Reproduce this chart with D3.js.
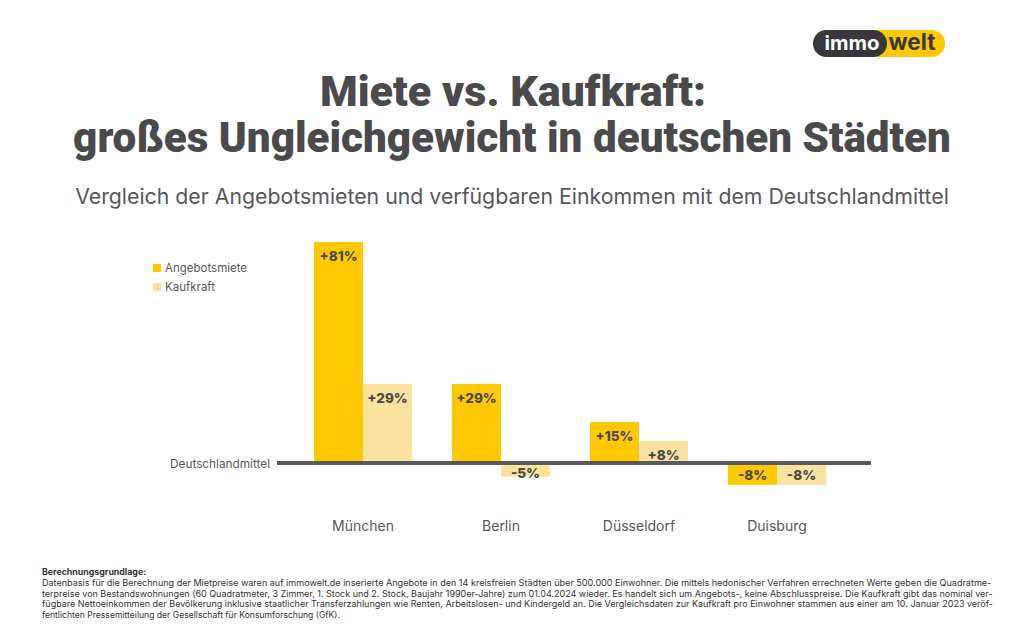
<!DOCTYPE html>
<html><head><meta charset="utf-8">
<script src="https://cdn.jsdelivr.net/npm/d3@7/dist/d3.min.js"></script>
<style>
html,body{margin:0;padding:0;background:#fff;}
svg{display:block;}
</style></head>
<body>
<svg id="chart" width="1024" height="643"></svg>
<script>
// ---- data ----
const cities = ["München", "Berlin", "Düsseldorf", "Duisburg"];
const seriesNames = ["Angebotsmiete", "Kaufkraft"];
const angebotsmiete = [81, 29, 15, -8];
const kaufkraft = [29, -5, 8, -8];
const titleLines = ["Miete vs. Kaufkraft:", "großes Ungleichgewicht in deutschen Städten"];
const subtitle = "Vergleich der Angebotsmieten und verfügbaren Einkommen mit dem Deutschlandmittel";
const baselineLabel = "Deutschlandmittel";
const noteHead = "Berechnungsgrundlage:";
const noteLines = [
 "Datenbasis für die Berechnung der Mietpreise waren auf immowelt.de inserierte Angebote in den 14 kreisfreien Städten über 500.000 Einwohner. Die mittels hedonischer Verfahren errechneten Werte geben die Quadratme-",
 "terpreise von Bestandswohnungen (60 Quadratmeter, 3 Zimmer, 1. Stock und 2. Stock, Baujahr 1990er-Jahre) zum 01.04.2024 wieder. Es handelt sich um Angebots-, keine Abschlusspreise. Die Kaufkraft gibt das nominal ver-",
 "fügbare Nettoeinkommen der Bevölkerung inklusive staatlicher Transferzahlungen wie Renten, Arbeitslosen- und Kindergeld an. Die Vergleichsdaten zur Kaufkraft pro Einwohner stammen aus einer am 10. Januar 2023 veröf-",
 "fentlichten Pressemitteilung der Gesellschaft für Konsumforschung (GfK)."
];

// ---- styles ----
const colors = {"Angebotsmiete": "#ffc800", "Kaufkraft": "#f9e39e"};
const dark = "#4a494b";
const gray = "#57575a";
const svg = d3.select("#chart");

function fitWidth(sel, target) {
  const node = sel.node();
  const fs = parseFloat(sel.attr("font-size"));
  const w = node.getComputedTextLength();
  sel.attr("font-size", (fs * target / w).toFixed(2));
  return sel;
}

// ---- logo ----
const logo = svg.append("g");
logo.append("rect").attr("x", 813).attr("y", 30).attr("width", 132).attr("height", 27).attr("rx", 13.5).attr("fill", "#ffc800");
logo.append("rect").attr("x", 813).attr("y", 30).attr("width", 74).attr("height", 27).attr("rx", 13.5).attr("fill", "#38383c");
logo.append("text").attr("x", 852).attr("y", 50).attr("text-anchor", "middle").attr("font-family", "Inter, sans-serif")
  .attr("font-weight", 700).attr("font-size", 20).attr("fill", "#fff").text("immo").call(s => fitWidth(s, 55));
logo.append("text").attr("x", 912).attr("y", 50).attr("text-anchor", "middle").attr("font-family", "Inter, sans-serif")
  .attr("font-weight", 700).attr("font-size", 20).attr("fill", "#38383c").text("welt").call(s => fitWidth(s, 47));

// ---- titles ----
const titleFont = "Roboto, 'Open Sans', sans-serif";
svg.append("text").attr("x", 513).attr("y", 106).attr("text-anchor", "middle").attr("font-family", titleFont)
  .attr("font-weight", 900).attr("font-size", 40).attr("fill", dark).text(titleLines[0]).call(s => fitWidth(s, 386));
svg.append("text").attr("x", 512).attr("y", 152).attr("text-anchor", "middle").attr("font-family", titleFont)
  .attr("font-weight", 900).attr("font-size", 40).attr("fill", dark).text(titleLines[1]).call(s => fitWidth(s, 878));
svg.append("text").attr("x", 512).attr("y", 204).attr("text-anchor", "middle").attr("font-family", "Inter, sans-serif")
  .attr("font-weight", 400).attr("font-size", 20).attr("fill", gray).text(subtitle).call(s => fitWidth(s, 874));

// ---- scales ----
const x = d3.scaleBand().domain(cities).range([294, 846]).paddingInner(0.29).paddingOuter(0.145);
const xs = d3.scaleBand().domain(seriesNames).range([0, x.bandwidth()]);
const y = d3.scaleLinear().domain([0, 81]).range([463, 242]);

const rows = cities.map((c, i) => ({city: c, values: [
  {series: "Angebotsmiete", value: angebotsmiete[i]},
  {series: "Kaufkraft", value: kaufkraft[i]}
]}));

const groups = svg.append("g").selectAll("g").data(rows).join("g")
  .attr("transform", d => `translate(${x(d.city)},0)`);

groups.selectAll("rect").data(d => d.values).join("rect")
  .attr("x", d => xs(d.series))
  .attr("width", xs.bandwidth())
  .attr("y", d => Math.min(y(d.value), y(0)))
  .attr("height", d => Math.abs(y(d.value) - y(0)))
  .attr("fill", d => colors[d.series]);

const fmt = v => (v > 0 ? "+" : "") + v + "%";
groups.selectAll("text").data(d => d.values).join("text")
  .attr("x", d => xs(d.series) + xs.bandwidth() / 2)
  .attr("y", d => d.value >= 0 ? y(d.value) + 14 : Math.max(y(0) + 10, y(d.value) - 10))
  .attr("dy", "0.35em")
  .attr("text-anchor", "middle")
  .attr("font-family", "Inter, sans-serif").attr("font-weight", 800).attr("font-size", 13.5)
  .attr("fill", dark)
  .text(d => fmt(d.value));

// ---- baseline ----
svg.append("line").attr("x1", 277).attr("x2", 871).attr("y1", y(0)).attr("y2", y(0))
  .attr("stroke", "#5a5a5c").attr("stroke-width", 4);
svg.append("text").attr("x", 270).attr("y", y(0) + 1).attr("dy", "0.35em").attr("text-anchor", "end")
  .attr("font-family", "Inter, sans-serif").attr("font-size", 12).attr("fill", gray).text(baselineLabel)
  .call(s => fitWidth(s, 100));

// ---- category axis ----
const xAxis = svg.append("g").attr("transform", "translate(0,521)")
  .call(d3.axisBottom(x).tickSize(0).tickPadding(0));
xAxis.select(".domain").remove();
xAxis.selectAll("text").attr("font-family", "Inter, sans-serif").attr("font-size", 14).attr("fill", gray);

// ---- legend ----
const legend = svg.append("g").selectAll("g").data(seriesNames).join("g")
  .attr("transform", (d, i) => `translate(153,${264 + i * 19})`);
legend.append("rect").attr("width", 8).attr("height", 8).attr("fill", d => colors[d]);
legend.append("text").attr("x", 12).attr("y", 4).attr("dy", "0.35em")
  .attr("font-family", "Inter, sans-serif").attr("font-size", 11.5).attr("fill", gray).text(d => d);

// ---- footnote ----
svg.append("text").attr("x", 42).attr("y", 575).attr("font-family", "Inter, sans-serif")
  .attr("font-weight", 700).attr("font-size", 8.8).attr("fill", "#333").text(noteHead);
noteLines.forEach((t, i) => {
  const tx = svg.append("text").attr("x", 42).attr("y", 586 + i * 10.6)
    .attr("font-family", "Inter, sans-serif").attr("font-size", 8.6).attr("fill", "#333").text(t);
  if (i < noteLines.length - 1) tx.call(s => fitWidth(s, 950));
});
</script>
</body></html>
